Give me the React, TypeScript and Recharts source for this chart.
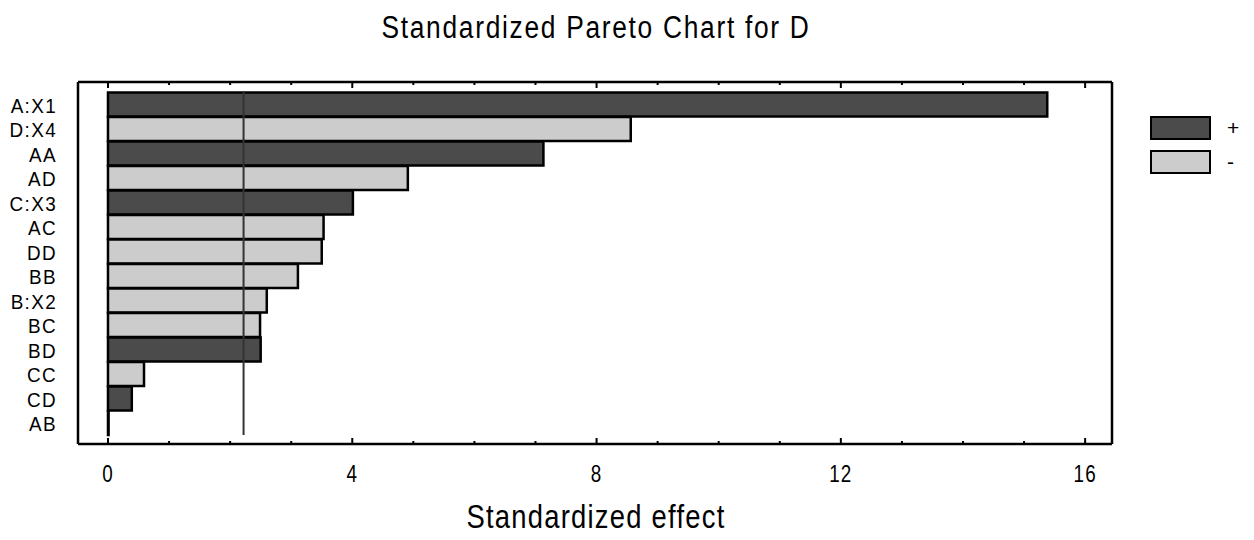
import * as React from "react";
import { Bar, BarChart, Cell, ReferenceLine, XAxis, YAxis } from "recharts";

// Effects in Pareto order (top to bottom).
const terms = ["A:X1", "D:X4", "AA", "AD", "C:X3", "AC", "DD", "BB", "B:X2", "BC", "BD", "CC", "CD", "AB"];
const effects = [15.38, 8.56, 7.13, 4.91, 4.01, 3.53, 3.5, 3.11, 2.6, 2.49, 2.5, 0.59, 0.39, 0.01];
const signs = ["+", "-", "+", "-", "+", "-", "-", "-", "-", "-", "+", "-", "+", "+"];
const xTicks = [0, 1, 2, 3, 4, 5, 6, 7, 8, 9, 10, 11, 12, 13, 14, 15, 16];
const criticalT = 2.22;

const DARK = "#4b4b4b";
const LIGHT = "#cccccc";
// no narrow font installed, so text is squeezed horizontally instead
const FONT = "'Liberation Sans', Arial, sans-serif";

const data = terms.map((name, i) => ({ name, effect: effects[i], sign: signs[i] }));

function BottomTick(props: any) {
  const { x, y, payload } = props;
  const major = payload.value % 4 === 0;
  return (
    <g>
      <line x1={x} x2={x} y1={y} y2={y - (major ? 6 : 3)} stroke="#000" strokeWidth={2} />
      {major && (
        <text
          transform={`translate(${x},${y + 29.5}) scale(0.82,1)`}
          textAnchor="middle"
          dominantBaseline="central"
          fontFamily={FONT}
          fontSize={23}
          letterSpacing={1.5}
          fill="#000"
        >
          {payload.value}
        </text>
      )}
    </g>
  );
}

function TopTick(props: any) {
  const { x, y, payload } = props;
  const major = payload.value % 4 === 0;
  return <line x1={x} x2={x} y1={y} y2={y + (major ? 6 : 3)} stroke="#000" strokeWidth={2} />;
}

function TermTick(props: any) {
  const { x, y, payload } = props;
  return (
    <text
      transform={`translate(${x - 21},${y + 1}) scale(0.9,1)`}
      textAnchor="end"
      dominantBaseline="central"
      fontFamily={FONT}
      fontSize={21}
      letterSpacing={1.5}
      fill="#000"
    >
      {payload.value}
    </text>
  );
}

// critical value line, drawn over the category band only (not the axis padding)
function CriticalLine(props: any) {
  const { x1, x2, y1, y2 } = props;
  return (
    <line x1={x1} x2={x2} y1={Math.min(y1, y2) + 9} y2={Math.max(y1, y2) - 9} stroke="#333" strokeWidth={2} />
  );
}

const swatch = (fill: string, top: number): React.CSSProperties => ({
  position: "absolute",
  left: 1150,
  top,
  width: 57,
  height: 20,
  background: fill,
  border: "2px solid #000",
});

const legendText = (top: number): React.CSSProperties => ({
  position: "absolute",
  left: 1227,
  top,
  fontFamily: FONT,
  fontSize: 21,
  lineHeight: "24px",
});

const heading = (top: number, size: number, ls: number, sx: number): React.CSSProperties => ({
  position: "absolute",
  left: 0,
  width: 1192,
  top,
  textAlign: "center",
  fontFamily: FONT,
  fontSize: size,
  letterSpacing: ls,
  lineHeight: 1,
  transform: `scaleX(${sx})`,
  transformOrigin: "596px 0",
});

export default function App() {
  return (
    <div style={{ position: "absolute", left: 0, top: 0, width: 1254, height: 540, background: "#fff" }}>
      <div style={heading(12, 31, 2, 0.85)}>Standardized Pareto Chart for D</div>
      <BarChart
        width={1254}
        height={540}
        data={data}
        layout="vertical"
        margin={{ top: 72, right: 132, bottom: 66, left: 8 }}
        barCategoryGap={0.5}
      >
        <XAxis
          xAxisId="bottom"
          type="number"
          domain={[-0.491, 16.44]}
          allowDataOverflow
          ticks={xTicks}
          interval={0}
          height={30}
          tickSize={0}
          tickMargin={0}
          tickLine={false}
          axisLine={{ stroke: "#000", strokeWidth: 2.5 }}
          tick={<BottomTick />}
        />
        <XAxis
          xAxisId="top"
          orientation="top"
          type="number"
          domain={[-0.491, 16.44]}
          allowDataOverflow
          ticks={xTicks}
          interval={0}
          height={10}
          tickSize={0}
          tickMargin={0}
          tickLine={false}
          axisLine={{ stroke: "#000", strokeWidth: 2.5 }}
          tick={<TopTick />}
        />
        <YAxis
          yAxisId="left"
          type="category"
          dataKey="name"
          width={70}
          padding={{ top: 10, bottom: 9 }}
          tickSize={0}
          tickMargin={0}
          tickLine={false}
          interval={0}
          axisLine={{ stroke: "#000", strokeWidth: 2.5 }}
          tick={<TermTick />}
        />
        <YAxis
          yAxisId="right"
          orientation="right"
          type="category"
          dataKey="name"
          width={10}
          tick={false}
          tickLine={false}
          axisLine={{ stroke: "#000", strokeWidth: 2.5 }}
        />
        <Bar dataKey="effect" xAxisId="bottom" yAxisId="left" stroke="#000" strokeWidth={2.5} isAnimationActive={false}>
          {data.map((d) => (
            <Cell key={d.name} fill={d.sign === "+" ? DARK : LIGHT} />
          ))}
        </Bar>
        <ReferenceLine x={criticalT} xAxisId="bottom" yAxisId="left" shape={<CriticalLine />} />
      </BarChart>
      <div style={heading(500, 33, 1.5, 0.83)}>Standardized effect</div>
      <div style={swatch(DARK, 116)} />
      <div style={swatch(LIGHT, 150)} />
      <div style={legendText(116)}>+</div>
      <div style={legendText(150)}>-</div>
    </div>
  );
}
